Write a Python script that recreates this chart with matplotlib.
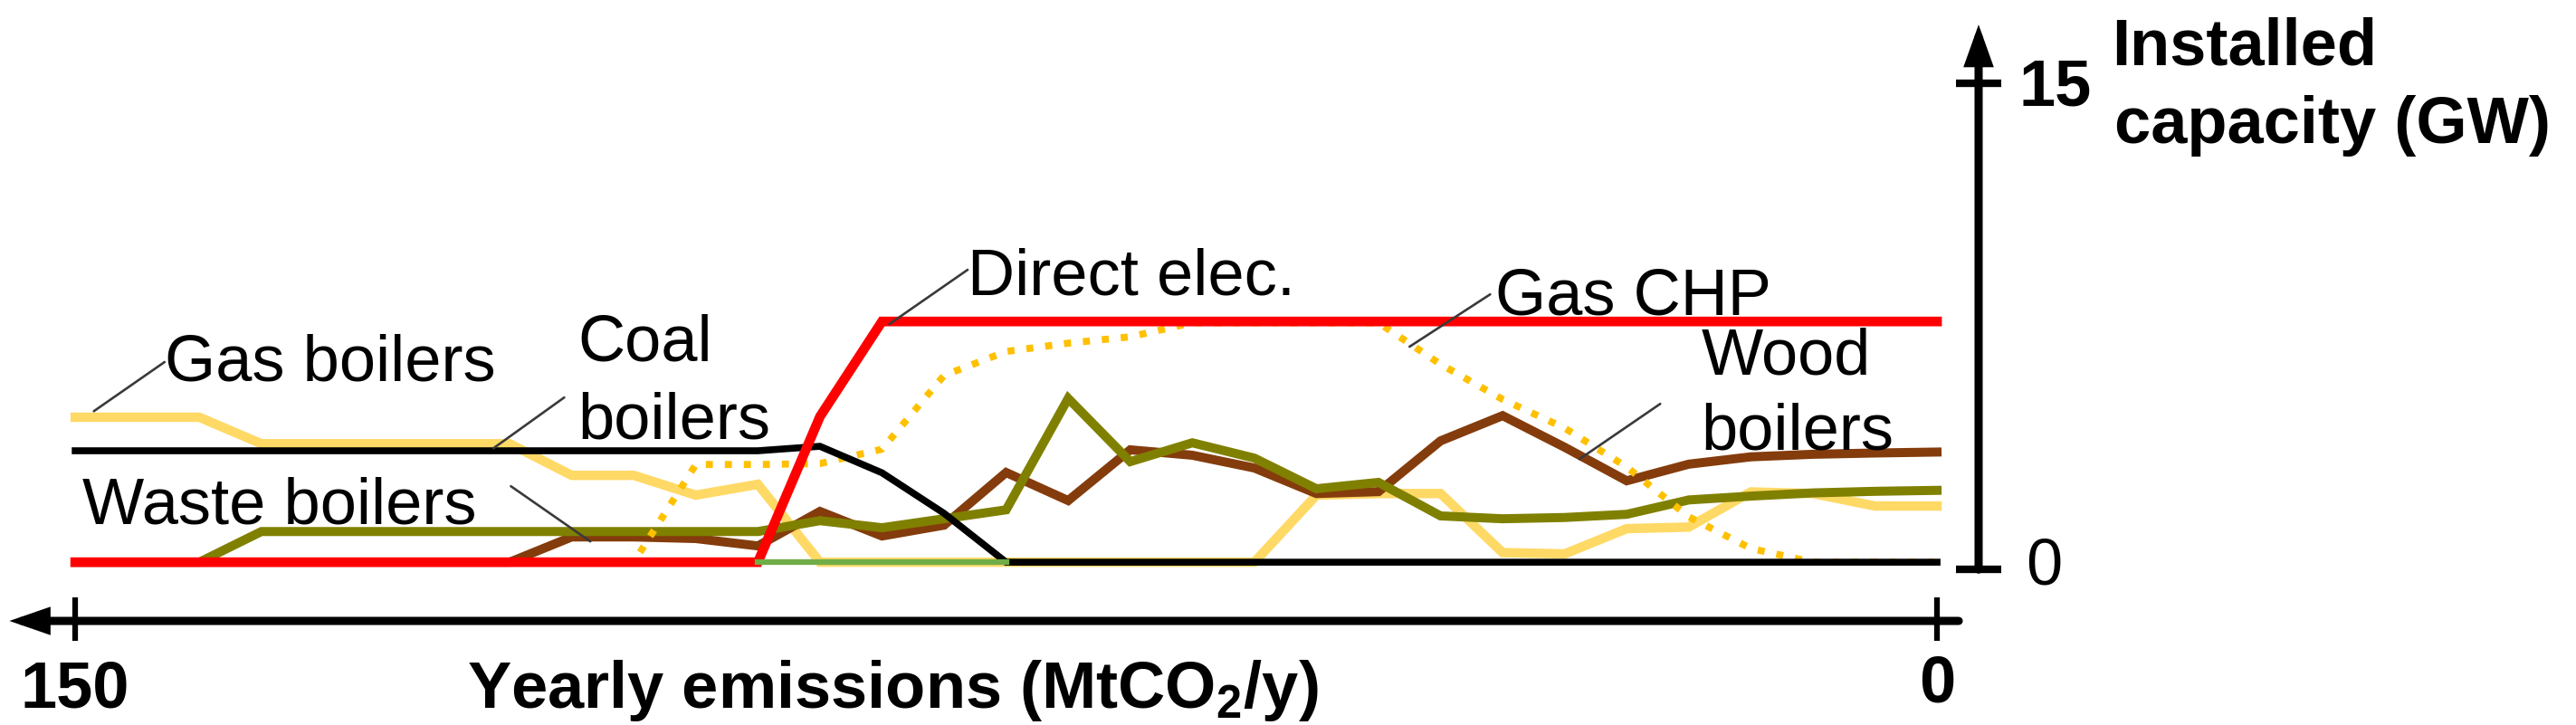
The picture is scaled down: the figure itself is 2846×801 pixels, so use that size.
import matplotlib
matplotlib.use("Agg")
import matplotlib.pyplot as plt
import numpy as np

plt.rcParams['font.family'] = ['Liberation Sans', 'DejaVu Sans']
plt.rcParams['mathtext.fontset'] = 'custom'
plt.rcParams['mathtext.rm'] = 'Liberation Sans:bold'
plt.rcParams['mathtext.bf'] = 'Liberation Sans:bold'

# --- data: one point every 5 MtCO2/y, from 150 down to 0 ---
emissions = [150, 145, 140, 135, 130, 125, 120, 115, 110, 105, 100, 95, 90, 85, 80, 75,
             70, 65, 60, 55, 50, 45, 40, 35, 30, 25, 20, 15, 10, 5, 0]

gas_boilers = [4.54, 4.54, 4.54, 3.71, 3.71, 3.71, 3.71, 3.71, 2.72, 2.72, 2.1, 2.44, 0, 0, 0, 0,
               0, 0, 0, 0, 2.1, 2.15, 2.15, 0.3, 0.26, 1.05, 1.1, 2.2, 2.15, 1.76, 1.76]
coal_boilers = [3.49, 3.49, 3.49, 3.49, 3.49, 3.49, 3.49, 3.49, 3.49, 3.49, 3.49, 3.49, 3.63, 2.8, 1.53, 0,
                0, 0, 0, 0, 0, 0, 0, 0, 0, 0, 0, 0, 0, 0, 0]
waste_boilers = [0, 0, 0, 0.96, 0.96, 0.96, 0.96, 0.96, 0.96, 0.96, 0.96, 0.96, 1.3, 1.08, 1.36, 1.64,
                 5.13, 3.15, 3.74, 3.26, 2.3, 2.5, 1.45, 1.36, 1.4, 1.5, 1.95, 2.07, 2.17, 2.22, 2.25]
wood_boilers = [0, 0, 0, 0, 0, 0, 0, 0, 0.79, 0.79, 0.74, 0.51, 1.59, 0.82, 1.16, 2.81,
                1.93, 3.52, 3.35, 2.95, 2.15, 2.21, 3.8, 4.59, 3.6, 2.55, 3.07, 3.3, 3.38, 3.42, 3.45]
direct_elec = [0, 0, 0, 0, 0, 0, 0, 0, 0, 0, 0, 0, 4.56, 7.54, 7.54, 7.54,
               7.54, 7.54, 7.54, 7.54, 7.54, 7.54, 7.54, 7.54, 7.54, 7.54, 7.54, 7.54, 7.54, 7.54, 7.54]
gas_chp = [0, 0, 0, 0, 0, 0, 0, 0, 0, 0, 3.06, 3.06, 3.09, 3.54, 5.85, 6.6,
           6.86, 7.06, 7.5, 7.5, 7.5, 7.5, 6.2, 5.1, 4.2, 2.98, 1.42, 0.43, 0, 0, 0]
nan = np.nan
other = [nan, nan, nan, nan, nan, nan, nan, nan, nan, nan, nan, 0, 0, 0, 0, 0,
         nan, nan, nan, nan, nan, nan, nan, nan, nan, nan, nan, nan, nan, nan, nan]

FS = 52

fig = plt.figure(figsize=(28.46, 8.01), dpi=100)
ax = fig.add_axes([0, 0, 1, 1])
ax.set_xlim(156.06, -51.48)
ax.set_ylim(-5.10, 17.61)
ax.axis('off')

# --- series ---
ax.plot(emissions, gas_boilers, color='#FFD966', lw=7.5, solid_joinstyle='miter')
ax.plot(emissions, wood_boilers, color='#843C0C', lw=7.2, solid_joinstyle='miter')
ax.plot(emissions, waste_boilers, color='#808000', lw=7.2, solid_joinstyle='miter')
ax.plot(emissions, gas_chp, color='#FFC000', lw=5.6, linestyle=(0, (1, 1.7)))
ax.plot(emissions, coal_boilers, color='black', lw=5.5, solid_joinstyle='miter')
ax.plot(emissions, direct_elec, color='#FF0000', lw=7.7, solid_joinstyle='miter')
ax.plot(emissions, other, color='#70AD47', lw=4.5)

# --- labels with leader lines ---
lead = dict(arrowstyle='-', color='#3a3a3a', lw=1.9, shrinkA=0, shrinkB=0)
labels = [
    # text, text position, curve point, line end
    ("Gas boilers", (142.8, 5.70), (148.5, 4.73), (142.8, 6.27)),
    ("Coal", (109.5, 6.32), None, None),
    ("boilers", (109.5, 3.86), (116.3, 3.57), (110.6, 5.16)),
    ("Waste boilers", (149.4, 1.22), (114.9, 2.38), (108.5, 0.65)),
    ("Direct elec.", (78.1, 8.39), (84.4, 7.46), (78.1, 9.16)),
    ("Gas CHP", (35.6, 7.77), (42.5, 6.75), (36.0, 8.39)),
    ("Wood", (19.0, 5.90), None, None),
    ("boilers", (19.0, 3.52), (28.8, 3.23), (22.3, 4.96)),
]
for txt, pos, pt, end in labels:
    ax.text(pos[0], pos[1], txt, fontsize=FS, ha='left', va='baseline')
    if pt is not None:
        ax.annotate('', xy=pt, xytext=end, arrowprops=lead)

# --- x axis (emissions, decreasing to the right) ---
x_axis_y = -1.84
ax.annotate('', xy=(155.3, x_axis_y), xytext=(-1.75, x_axis_y),
            arrowprops=dict(arrowstyle='-|>,head_length=1.3,head_width=0.45',
                            mutation_scale=15, lw=6.5, color='black',
                            shrinkA=0, shrinkB=0, joinstyle='miter'))
for xt in [150, 0]:
    ax.plot([xt, xt], [-1.11, -2.47], color='black', lw=4.5, solid_capstyle='butt')
ax.text(150, -4.56, "150", fontsize=FS, fontweight='bold', ha='center', va='baseline')
ax.text(0, -4.39, "0", fontsize=FS, fontweight='bold', ha='center', va='baseline')
ax.text(84.1, -4.56, r"Yearly emissions (MtCO$_\mathrm{2}$/y)", fontsize=FS,
        fontweight='bold', ha='center', va='baseline')

# --- y axis (installed capacity) ---
y_axis_x = -3.35
ax.annotate('', xy=(y_axis_x, 16.84), xytext=(y_axis_x, -0.23),
            arrowprops=dict(arrowstyle='-|>,head_length=1.4,head_width=0.5',
                            mutation_scale=15, lw=6.5, color='black',
                            shrinkA=0, shrinkB=0, joinstyle='miter'))
for yt in [15, -0.23]:
    ax.plot([y_axis_x + 1.79, y_axis_x - 1.79], [yt, yt], color='black', lw=6,
            solid_capstyle='butt')
ax.text(-6.63, 14.3, "15", fontsize=FS, fontweight='bold', ha='left', va='baseline')
ax.text(-7.15, -0.68, "0", fontsize=FS, ha='left', va='baseline')
ax.text(-14.07, 15.57, "Installed", fontsize=FS, fontweight='bold', ha='left', va='baseline')
ax.text(-14.29, 13.13, "capacity (GW)", fontsize=FS, fontweight='bold', ha='left', va='baseline')

fig.savefig('out.png', dpi=100)
